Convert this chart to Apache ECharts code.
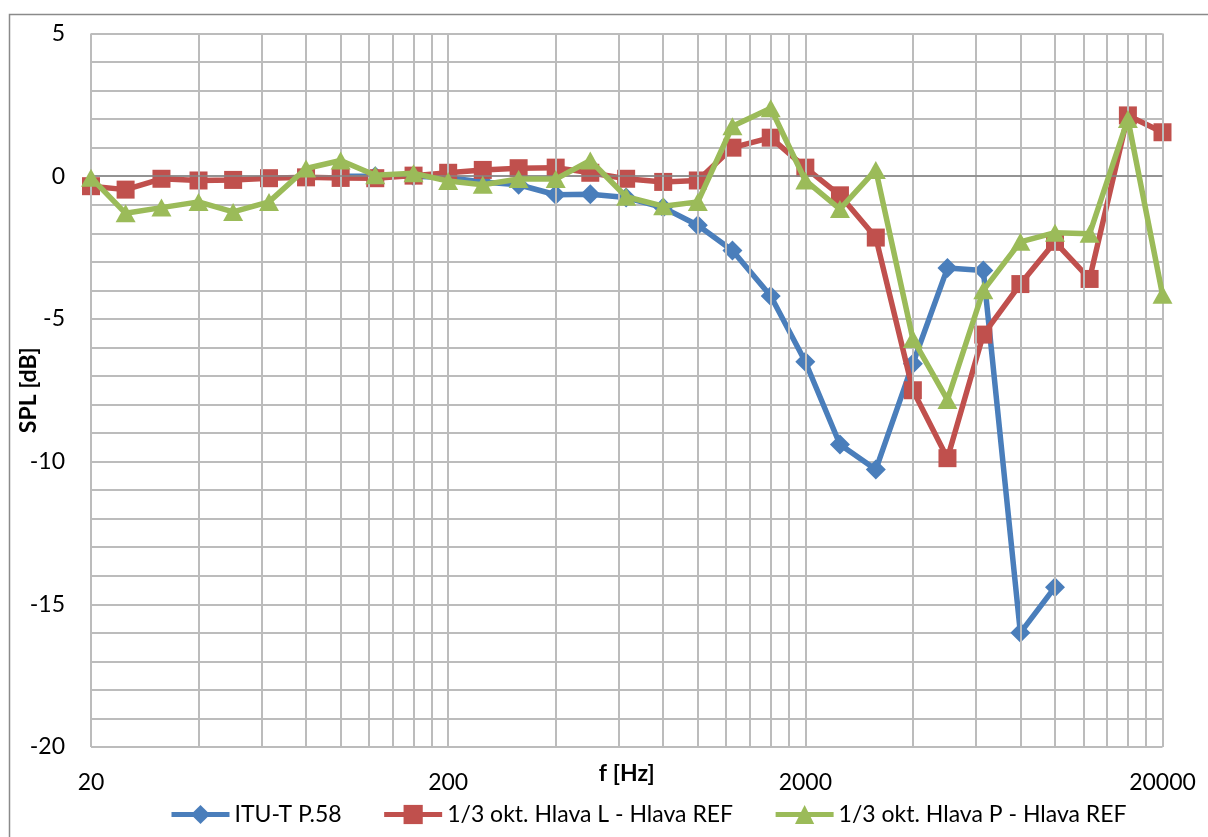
<!DOCTYPE html>
<html>
<head>
<meta charset="utf-8">
<title>SPL</title>
<script src="https://cdn.jsdelivr.net/npm/echarts@6/dist/echarts.min.js"></script>
<style>
  html, body { margin: 0; padding: 0; background: #ffffff; }
  #chart { width: 1208px; height: 837px; }
</style>
</head>
<body>
<div id="chart"></div>
<script>
// 1/3-octave band centre frequencies [Hz]
const freqs = [20, 25, 31.5, 40, 50, 63, 80, 100, 125, 160, 200, 250, 315, 400, 500, 630,
  800, 1000, 1250, 1600, 2000, 2500, 3150, 4000, 5000, 6300, 8000, 10000, 12500, 16000, 20000];

// ITU-T P.58 reference response (defined 100 Hz .. 10 kHz)
const ituP58 = [null, null, null, null, null, null, null, 0, 0, 0, -0.05, -0.2, -0.3, -0.65,
  -0.63, -0.75, -1.1, -1.72, -2.6, -4.2, -6.5, -9.4, -10.28, -6.57, -3.22, -3.3, -16.0, -14.4,
  null, null, null];

// Left head minus reference head [dB]
const hlavaL = [-0.35, -0.47, -0.09, -0.15, -0.13, -0.07, -0.04, -0.06, -0.07, 0.02, 0.12,
  0.22, 0.28, 0.3, 0.12, -0.09, -0.2, -0.15, 1.0, 1.35, 0.3, -0.67, -2.15, -7.5, -9.88,
  -5.55, -3.78, -2.3, -3.6, 2.13, 1.54];

// Right head minus reference head [dB]
const hlavaP = [-0.05, -1.3, -1.1, -0.9, -1.25, -0.9, 0.27, 0.55, 0.03, 0.1, -0.17, -0.3,
  -0.1, -0.1, 0.55, -0.72, -1.05, -0.9, 1.75, 2.38, -0.15, -1.15, 0.22, -5.7, -7.84, -4.0,
  -2.3, -1.98, -2.02, 2.0, -4.15];

const seriesNames = ['ITU-T P.58', '1/3 okt. Hlava L - Hlava REF', '1/3 okt. Hlava P - Hlava REF'];
const xTickLabels = [20, 200, 2000, 20000];
const yRange = { min: -20, max: 5, step: 5 };

// Vertical grid: every decade step starting at 20 Hz, subdivided 2x..9x
const xGrid = [];
for (let dec = 20; dec < 20000; dec *= 10) {
  for (let k = 1; k <= 9; k++) xGrid.push(dec * k);
}
xGrid.push(20000);

const pairs = (vals) => freqs.map((f, i) => [f, vals[i]]).filter(p => p[1] !== null);

const FONT = 'Lato, "Open Sans", sans-serif';
const GRID_COLOR = '#bcbcbc';
const LINE_W = 5.5;

const chart = echarts.init(document.getElementById('chart'), null, { renderer: 'canvas' });

chart.setOption({
  backgroundColor: '#ffffff',
  animation: false,
  textStyle: { fontFamily: FONT, color: '#000' },
  graphic: [{
    type: 'rect',
    left: 7, top: 12,
    shape: { width: 1400, height: 1000 },
    style: { fill: 'none', stroke: '#8a8a8a', lineWidth: 1.5 },
    silent: true, z: -10
  }],
  grid: {
    left: 91, right: 45.5, top: 33.5, bottom: 90,
    containLabel: false,
    outerBoundsMode: 'none'
  },
  legend: {
    data: seriesNames,
    bottom: 6,
    left: 164,
    itemWidth: 58,
    itemHeight: 24,
    itemGap: 40,
    lineStyle: { width: 5 },
    textStyle: { fontFamily: FONT, fontSize: 23, color: '#000' }
  },
  xAxis: {
    type: 'log',
    logBase: 10,
    min: 20,
    max: 20000,
    name: 'f [Hz]',
    nameLocation: 'middle',
    nameGap: 15,
    nameMoveOverlap: false,
    nameTextStyle: { fontFamily: FONT, fontSize: 23, fontWeight: 'bold', color: '#000', verticalAlign: 'top' },
    axisLine: { show: false },
    axisTick: { show: false },
    splitLine: { show: false },
    axisLabel: {
      customValues: xTickLabels,
      margin: 24,
      fontSize: 23,
      color: '#000',
      fontFamily: FONT,
      formatter: (v) => String(Math.round(v))
    }
  },
  yAxis: {
    type: 'value',
    min: yRange.min,
    max: yRange.max,
    interval: yRange.step,
    name: 'SPL [dB]',
    nameLocation: 'middle',
    nameGap: 51,
    nameMoveOverlap: false,
    nameTextStyle: { fontFamily: FONT, fontSize: 23, fontWeight: 'bold', color: '#000' },
    axisLine: { show: false },
    axisTick: { show: false },
    axisLabel: { margin: 26, fontSize: 23, color: '#000', fontFamily: FONT },
    splitLine: { show: true, lineStyle: { color: GRID_COLOR, width: 2 } },
    minorTick: { show: false, splitNumber: 5 },
    minorSplitLine: { show: true, lineStyle: { color: GRID_COLOR, width: 2 } }
  },
  series: [
    {
      // vertical frequency grid
      name: 'grid-x',
      type: 'line',
      data: [],
      z: 1,
      silent: true,
      markLine: {
        silent: true,
        symbol: 'none',
        animation: false,
        label: { show: false },
        lineStyle: { color: GRID_COLOR, width: 2, type: 'solid' },
        emphasis: { disabled: true },
        data: xGrid.map(f => ({ xAxis: f }))
      }
    },
    {
      // 0 dB reference line
      name: 'zero',
      type: 'line',
      data: [],
      z: 1,
      silent: true,
      markLine: {
        silent: true,
        symbol: 'none',
        animation: false,
        label: { show: false },
        lineStyle: { color: '#868686', width: 1.5, type: 'solid' },
        emphasis: { disabled: true },
        data: [{ yAxis: 0 }]
      }
    },
    {
      name: seriesNames[0],
      type: 'line',
      data: pairs(ituP58),
      z: 3,
      symbol: 'diamond',
      symbolSize: [20, 20],
      itemStyle: { color: '#4a7ebb' },
      lineStyle: { color: '#4a7ebb', width: LINE_W }
    },
    {
      name: seriesNames[1],
      type: 'line',
      data: pairs(hlavaL),
      z: 4,
      symbol: 'rect',
      symbolSize: 18,
      itemStyle: { color: '#c0504d' },
      lineStyle: { color: '#c0504d', width: LINE_W }
    },
    {
      name: seriesNames[2],
      type: 'line',
      data: pairs(hlavaP),
      z: 5,
      symbol: 'triangle',
      symbolSize: [20, 18],
      itemStyle: { color: '#9bbb59' },
      lineStyle: { color: '#9bbb59', width: LINE_W }
    }
  ]
});
</script>
</body>
</html>
